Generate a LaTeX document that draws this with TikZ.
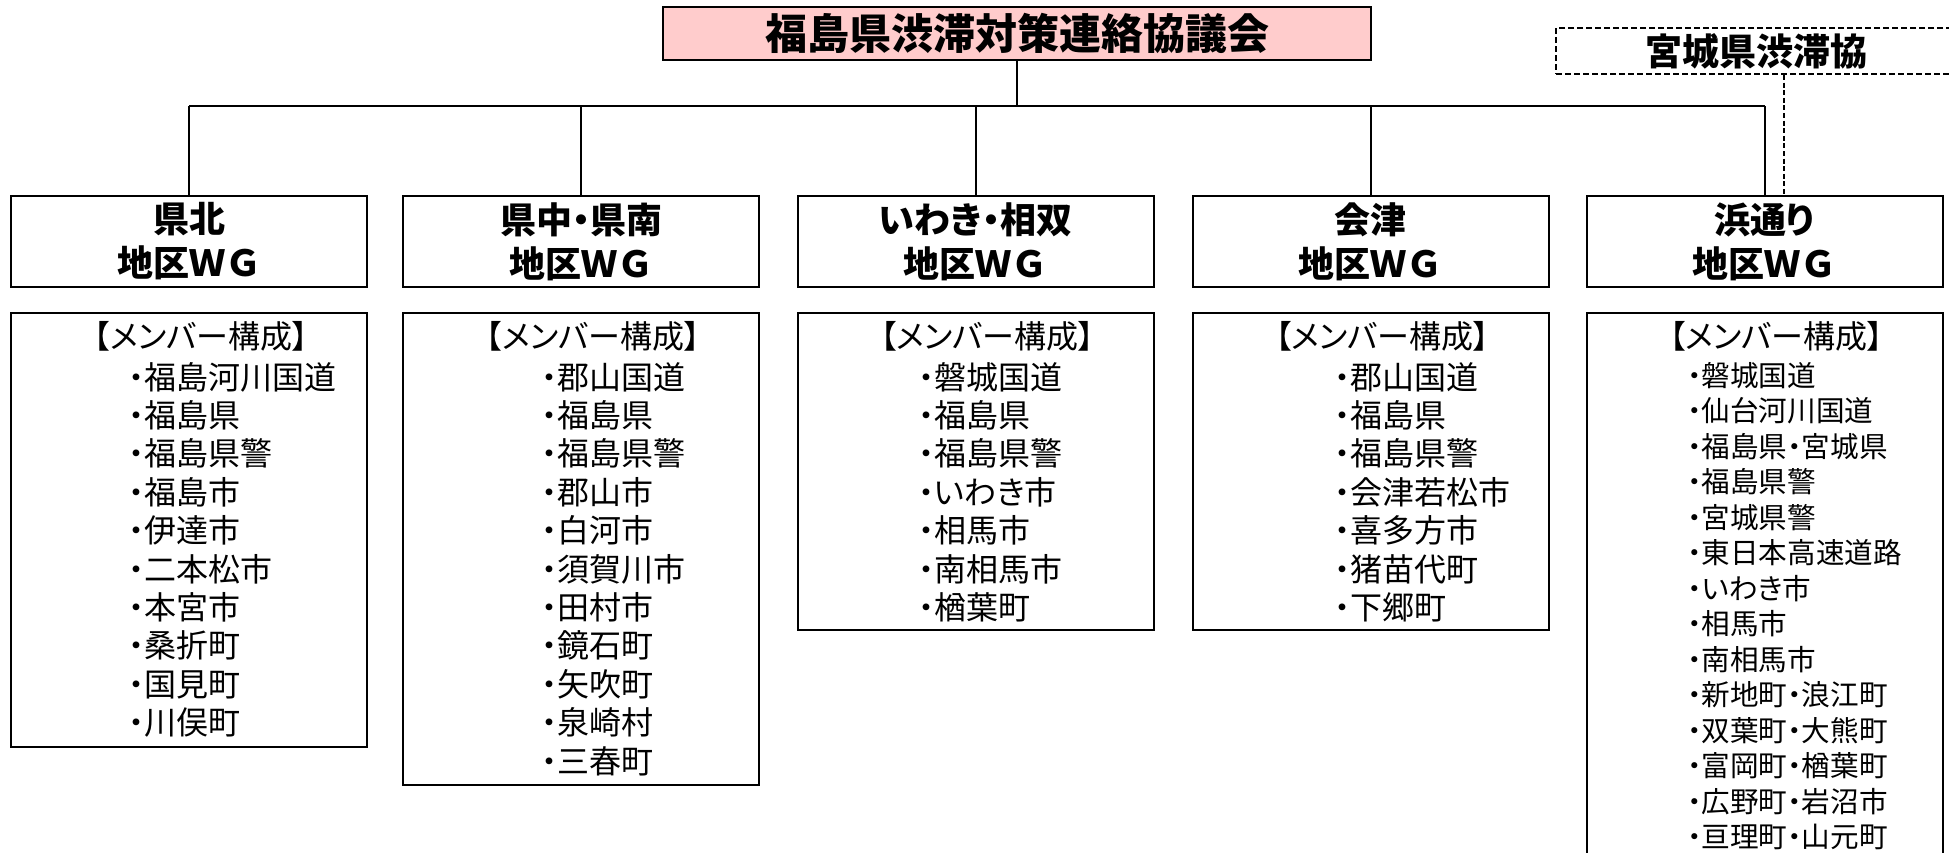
\documentclass[tikz,border=0pt]{standalone}
\usepackage{fontspec}
\setmainfont{Noto Sans CJK JP}[RawFeature=+palt]
\newfontfamily\jpfw{Noto Sans CJK JP}
\usetikzlibrary{calc}
\definecolor{pinkfill}{RGB}{255,204,204}
\begin{document}
\begin{tikzpicture}[x=0.5pt,y=-0.5pt,
  frame/.style={draw=black, line width=1pt, inner sep=0pt},
  wgbox/.style={frame, minimum width=178pt, minimum height=45.5pt, align=center,
    font=\bfseries\fontsize{18pt}{22pt}\selectfont},
  memberbox/.style={frame, anchor=north, minimum width=178pt},
  head/.style={anchor=base, inner sep=0pt, font=\fontsize{16pt}{19.2pt}\selectfont},
  item/.style={anchor=base west, inner sep=0pt, font=\fontsize{16pt}{19.2pt}\selectfont},
  smallitem/.style={anchor=base west, inner sep=0pt, font=\fontsize{14.3pt}{17pt}\selectfont},
  link/.style={line width=1pt},
  dashbox/.style={line width=1pt, dash pattern=on 3pt off 1.5pt},
  dashlink/.style={line width=0.8pt, dash pattern=on 2.5pt off 1.3pt}]
\useasboundingbox (0,0) rectangle (1949,852);

% top council
\node[frame, fill=pinkfill, minimum width=354pt, minimum height=26.5pt,
  font=\bfseries\fontsize{21pt}{25pt}\selectfont] (top) at (1017,33.5) {福島県渋滞対策連絡協議会};
% Miyagi council (cut at right edge)
\node[frame, dashbox, minimum width=200pt, minimum height=23pt,
  font=\bfseries\fontsize{18.5pt}{22pt}\selectfont] (miyagi) at (1756,51) {宮城県渋滞協};

% WG boxes
\node[wgbox] (w1) at (189,241.5) {県北\\{\jpfw 地区ＷＧ}};
\node[wgbox] (w2) at (581,241.5) {県中・県南\\{\jpfw 地区ＷＧ}};
\node[wgbox] (w3) at (975.5,241.5) {いわき・相双\\{\jpfw 地区ＷＧ}};
\node[wgbox] (w4) at (1370.5,241.5) {会津\\{\jpfw 地区ＷＧ}};
\node[wgbox] (w5) at (1764.5,241.5) {浜通り\\{\jpfw 地区ＷＧ}};

% connectors
\coordinate (bus) at (0,106);
\coordinate (dj) at (1784,0);
\draw[link] (top.south) -- (top.south |- bus);
\draw[link] (w1.north |- bus) -- (w5.north |- bus);
\foreach \w in {w1,w2,w3,w4,w5} \draw[link] (\w.north |- bus) -- (\w.north);
\draw[dashlink] (miyagi.south -| dj) -- (dj |- w5.north);

% member boxes
\node[memberbox, minimum height=217pt] (m1) at (189,311.5) {};
\node[memberbox, minimum height=236pt] (m2) at (581,311.5) {};
\node[memberbox, minimum height=158.5pt] (m3) at (975.5,311.5) {};
\node[memberbox, minimum height=158.5pt] (m4) at (1370.5,311.5) {};
\node[memberbox, minimum height=300pt] (m5) at (1764.5,311.5) {};

\node[head] (h1) at (201,348) {【メンバー構成】};
\node[head] (h2) at (593,348) {【メンバー構成】};
\node[head] (h3) at (987.5,348) {【メンバー構成】};
\node[head] (h4) at (1382.5,348) {【メンバー構成】};
\node[head] (h5) at (1776.5,348) {【メンバー構成】};

\foreach \t [count=\i from 0] in {福島河川国道,福島県,福島県警,福島市,伊達市,二本松市,本宮市,桑折町,国見町,川俣町}
  \node[item] (a\i) at (128,389+38.4*\i) {・\t};
\foreach \t [count=\i from 0] in {郡山国道,福島県,福島県警,郡山市,白河市,須賀川市,田村市,鏡石町,矢吹町,泉崎村,三春町}
  \node[item] (b\i) at (541,389+38.4*\i) {・\t};
\foreach \t [count=\i from 0] in {磐城国道,福島県,福島県警,いわき市,相馬市,南相馬市,楢葉町}
  \node[item] (c\i) at (918,389+38.4*\i) {・\t};
\foreach \t [count=\i from 0] in {郡山国道,福島県,福島県警,会津若松市,喜多方市,猪苗代町,下郷町}
  \node[item] (d\i) at (1334,389+38.4*\i) {・\t};
\foreach \t [count=\i from 0] in {磐城国道,仙台河川国道,福島県・宮城県,福島県警,宮城県警,東日本高速道路,いわき市,相馬市,南相馬市,新地町・浪江町,双葉町・大熊町,富岡町・楢葉町,広野町・岩沼市,亘理町・山元町}
  \node[smallitem] (e\i) at (1687,386+35.5*\i) {・\t};
\end{tikzpicture}
\end{document}
